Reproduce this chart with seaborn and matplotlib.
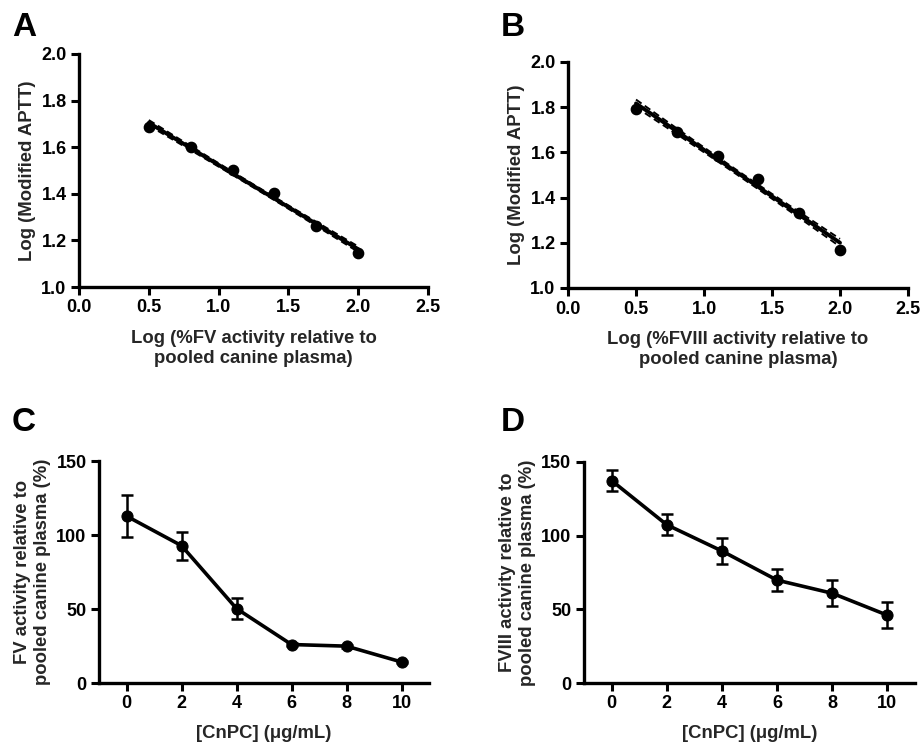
import numpy as np
import pandas as pd
import matplotlib
matplotlib.use("Agg")
import matplotlib.pyplot as plt
import seaborn as sns

# standard curves (log-log)
log_conc = [0.5, 0.8, 1.1, 1.4, 1.7, 2.0]
fv_log_aptt = [1.685, 1.600, 1.502, 1.404, 1.262, 1.148]
fviii_log_aptt = [1.794, 1.691, 1.585, 1.481, 1.334, 1.166]
# the published fit used replicate wells, so the band is much tighter
# than six means alone would give
n_replicates = 6

# inhibition by CnPC
cnpc = [0, 2, 4, 6, 8, 10]
fv_activity = [112.8, 92.8, 50.3, 26.0, 24.9, 14.2]
fv_err = [14.1, 9.5, 7.0, 1.2, 1.0, 0.8]
fviii_activity = [137.4, 107.4, 89.6, 69.8, 60.9, 46.0]
fviii_err = [7.2, 7.0, 9.0, 7.5, 8.8, 8.9]

sns.set_theme(style="ticks")
plt.rcParams["font.family"] = ["Liberation Sans", "DejaVu Sans"]
plt.rcParams["font.weight"] = "bold"
plt.rcParams["axes.labelweight"] = "bold"

fig = plt.figure(figsize=(9.22, 7.42), dpi=100)
W, H = 922, 742
TICK_FS = 13
LABEL_FS = 13.3


def add_ax(x0, y0, x1, y1):
    return fig.add_axes([x0 / W, 1 - y1 / H, (x1 - x0) / W, (y1 - y0) / H])


def style_axis(ax):
    sns.despine(ax=ax)
    for s in ["left", "bottom"]:
        ax.spines[s].set_linewidth(2.4)
        ax.spines[s].set_color("black")
    ax.tick_params(width=2.2, length=6, color="black", labelsize=TICK_FS,
                   labelcolor="black", pad=3)
    for lab in ax.get_xticklabels() + ax.get_yticklabels():
        lab.set_fontweight("bold")


def std_curve(ax, x, y, xlabel):
    df = pd.DataFrame({"x": x, "y": y})
    sns.regplot(data=df, x="x", y="y", ax=ax, ci=None, color="black",
                scatter_kws={"s": 55, "alpha": 1, "zorder": 3},
                line_kws={"lw": 2.8, "zorder": 2})
    # 95% confidence band of the fit, drawn as dashed lines
    xa = np.asarray(x)
    ya = np.asarray(y)
    slope, icpt = np.polyfit(xa, ya, 1)
    n = len(xa) * n_replicates
    resid = ya - (slope * xa + icpt)
    s_err = np.sqrt(np.sum(resid ** 2) / (len(xa) - 2))
    xs = np.linspace(xa.min(), xa.max(), 50)
    sxx = np.sum((xa - xa.mean()) ** 2) * n_replicates
    se = s_err * np.sqrt(1 / n + (xs - xa.mean()) ** 2 / sxx)
    t = 2.04
    fit = slope * xs + icpt
    ax.plot(xs, fit + t * se, ls=(0, (3.5, 2)), color="black", lw=1.4)
    ax.plot(xs, fit - t * se, ls=(0, (3.5, 2)), color="black", lw=1.4)
    ax.set_xlim(0, 2.5)
    ax.set_ylim(1.0, 2.0)
    ax.set_xticks([0.0, 0.5, 1.0, 1.5, 2.0, 2.5])
    ax.set_yticks([1.0, 1.2, 1.4, 1.6, 1.8, 2.0])
    ax.xaxis.set_major_formatter(matplotlib.ticker.FormatStrFormatter("%.1f"))
    ax.yaxis.set_major_formatter(matplotlib.ticker.FormatStrFormatter("%.1f"))
    ax.set_xlabel(xlabel, fontsize=LABEL_FS, fontweight="bold", labelpad=10)
    ax.set_ylabel("Log (Modified APTT)", fontsize=LABEL_FS, fontweight="bold",
                  labelpad=4)
    style_axis(ax)


def inhibition(ax, y, err, ylabel):
    df = pd.DataFrame({"conc": cnpc, "act": y})
    ax.errorbar(cnpc, y, yerr=err, fmt="none", ecolor="black", elinewidth=1.8,
                capsize=4, capthick=1.8, zorder=2)
    sns.lineplot(data=df, x="conc", y="act", ax=ax, color="black", lw=2.6,
                 marker="o", markersize=8, markeredgecolor="black", zorder=3)
    ax.set_xlim(-1, 11)
    ax.set_ylim(0, 150)
    ax.set_xticks([0, 2, 4, 6, 8, 10])
    ax.set_yticks([0, 50, 100, 150])
    ax.set_xlabel("[CnPC] (\u03bcg/mL)", fontsize=LABEL_FS, fontweight="bold",
                  labelpad=9)
    ax.set_ylabel(ylabel, fontsize=LABEL_FS, fontweight="bold", labelpad=4)
    style_axis(ax)


ax_a = add_ax(79, 54, 428, 287)
ax_b = add_ax(568, 62, 908, 288)
ax_c = add_ax(99, 461, 429, 683)
ax_d = add_ax(584, 462, 915, 683)

std_curve(ax_a, log_conc, fv_log_aptt,
          "Log (%FV activity relative to\npooled canine plasma)")
std_curve(ax_b, log_conc, fviii_log_aptt,
          "Log (%FVIII activity relative to\npooled canine plasma)")
inhibition(ax_c, fv_activity, fv_err,
           "FV activity relative to\npooled canine plasma (%)")
inhibition(ax_d, fviii_activity, fviii_err,
           "FVIII activity relative to\npooled canine plasma (%)")

for lbl, (px, py) in zip("ABCD", [(12, 36), (501, 36), (12, 431), (501, 431)]):
    fig.text(px / W, 1 - py / H, lbl, fontsize=24, fontweight="bold",
             ha="left", va="baseline", color="black")

fig.savefig("out.png", dpi=100, facecolor="white")
